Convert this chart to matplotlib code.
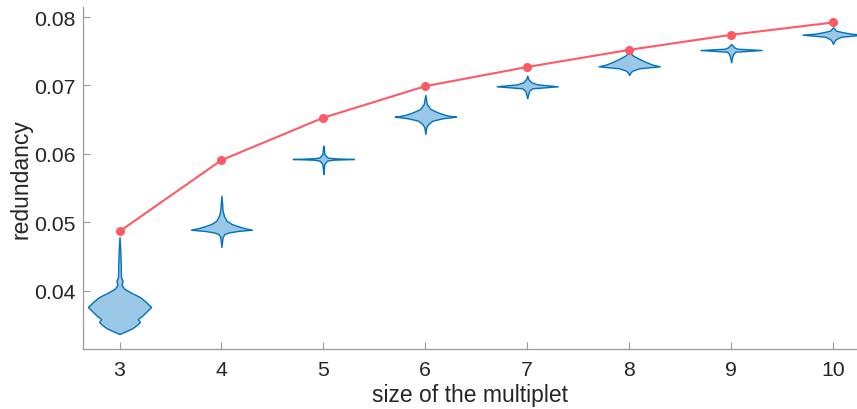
import matplotlib.pyplot as plt

plt.rcParams['font.family'] = ['Liberation Sans', 'DejaVu Sans']

# size of the multiplet
sizes = [3, 4, 5, 6, 7, 8, 9, 10]

# upper curve (red line with dots)
redundancy_max = [0.0487, 0.0591, 0.0653, 0.0699, 0.0727, 0.0752, 0.0774, 0.0792]

# violin outlines: y values and half widths (x units)
violin_y = [
    [0.04788, 0.04613, 0.04394, 0.04204, 0.04146, 0.04088, 0.04029, 0.03971, 0.03912,
     0.03839, 0.03766, 0.03693, 0.03635, 0.03591, 0.03547, 0.03504, 0.03460, 0.03416, 0.03372],
    [0.05391, 0.05270, 0.05168, 0.05095, 0.05026, 0.04978, 0.04942, 0.04912, 0.04895,
     0.04876, 0.04854, 0.04832, 0.04788, 0.04642],
    [0.06121, 0.06073, 0.06000, 0.05971, 0.05949, 0.05937, 0.05927, 0.05917, 0.05905,
     0.05883, 0.05854, 0.05796, 0.05708],
    [0.06861, 0.06803, 0.06730, 0.06657, 0.06609, 0.06569, 0.06555, 0.06545, 0.06521,
     0.06486, 0.06438, 0.06394, 0.06292],
    [0.07143, 0.07095, 0.07047, 0.07017, 0.06988, 0.06959, 0.06924, 0.06876, 0.06813],
    [0.07485, 0.07435, 0.07387, 0.07339, 0.07304, 0.07280, 0.07251, 0.07216, 0.07182, 0.07153],
    [0.07606, 0.07558, 0.07537, 0.07518, 0.07493, 0.07460, 0.07416, 0.07339],
    [0.07850, 0.07800, 0.07777, 0.07756, 0.07742, 0.07712, 0.07679, 0.07642, 0.07606],
]
violin_w = [
    [0, 0.007, 0.012, 0.015, 0.03, 0.02, 0.05, 0.12, 0.20, 0.26, 0.31, 0.26, 0.22, 0.18,
     0.20, 0.17, 0.13, 0.07, 0],
    [0, 0.007, 0.012, 0.025, 0.05, 0.10, 0.17, 0.24, 0.30, 0.16, 0.07, 0.03, 0.012, 0],
    [0, 0.005, 0.01, 0.025, 0.04, 0.10, 0.30, 0.10, 0.04, 0.025, 0.01, 0.005, 0],
    [0, 0.007, 0.015, 0.05, 0.12, 0.20, 0.25, 0.30, 0.17, 0.07, 0.03, 0.01, 0],
    [0, 0.01, 0.04, 0.10, 0.30, 0.05, 0.02, 0.01, 0],
    [0, 0.04, 0.10, 0.17, 0.23, 0.30, 0.10, 0.03, 0.01, 0],
    [0, 0.03, 0.06, 0.30, 0.04, 0.02, 0.01, 0],
    [0, 0.03, 0.10, 0.18, 0.30, 0.08, 0.03, 0.01, 0],
]

yticks = [0.04, 0.05, 0.06, 0.07, 0.08]

text_color = '#262626'
axis_color = '#999999'

fig = plt.figure(figsize=(8.57, 4.10), dpi=100)
ax = fig.add_axes([82.5 / 857, 60 / 410, 1 - 82.5 / 857, 342 / 410])

# violins
for x, ys, ws in zip(sizes, violin_y, violin_w):
    left = [x - w for w in ws]
    right = [x + w for w in ws]
    ax.fill_betweenx(ys, left, right, facecolor='#99c7e5', edgecolor='#0072bd',
                     linewidth=1.0, zorder=2)

# red curve
ax.plot(sizes, redundancy_max, '-o', color='#ff5966', linewidth=1.5,
        markersize=5.5, zorder=3)

ax.set_xlim(2.637, 10.235)
ax.set_ylim(0.03153, 0.08146)
ax.set_xticks(sizes)
ax.set_yticks(yticks)
ax.set_yticklabels([f'{v:.2f}' for v in yticks])

for side in ['top', 'right']:
    ax.spines[side].set_visible(False)
for side in ['left', 'bottom']:
    ax.spines[side].set_color(axis_color)
    ax.spines[side].set_linewidth(0.9)

ax.tick_params(direction='in', length=5, width=0.8, color=axis_color,
               labelcolor=text_color, labelsize=15.3)
ax.tick_params(axis='x', pad=8)
ax.tick_params(axis='y', pad=4.7)

ax.set_ylabel('redundancy', fontsize=16.5, color=text_color)
ax.set_xlabel('size of the multiplet', fontsize=16.5, color=text_color)
ax.yaxis.set_label_coords(-0.064, 0.5)
ax.xaxis.set_label_coords(0.5, -0.099)

fig.savefig('out.png', dpi=100)
